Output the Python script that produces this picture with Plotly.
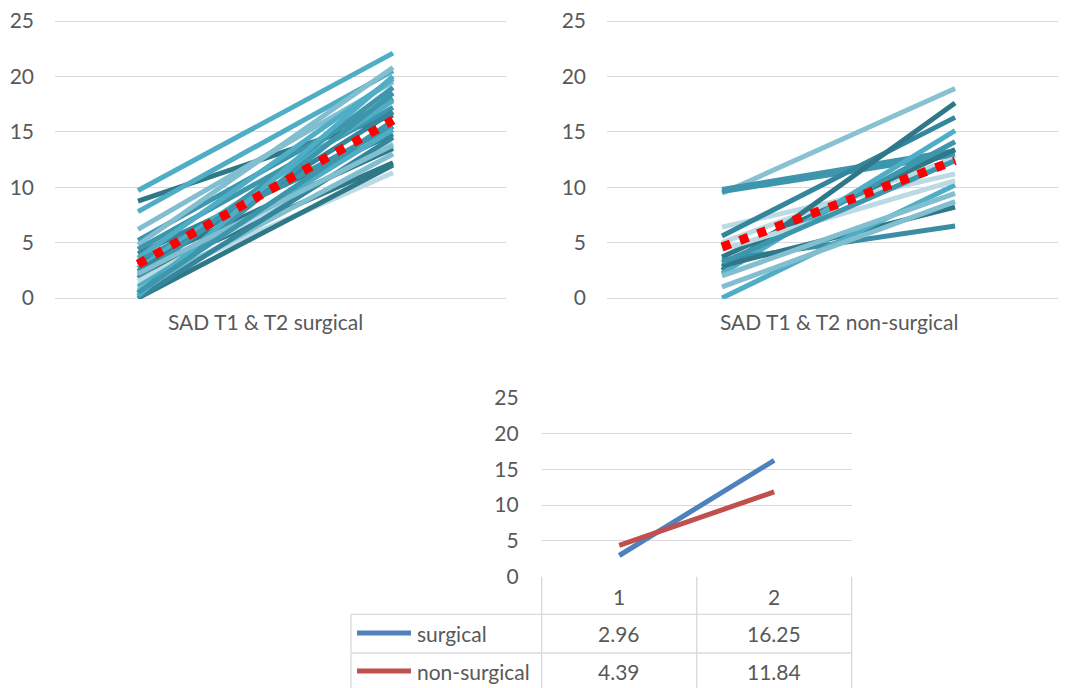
import plotly.graph_objects as go

# ---------------- data ----------------
timepoints = [1, 2]
surg_t1 = [9.7, 8.75, 7.8, 6.2, 5.2, 4.8, 4.4, 4.0, 3.6, 3.3, 3.0, 2.7, 2.4,
           2.1, 1.8, 1.5, 1.2, 1.0, 0.7, 0.4, 0.0, 0.0, 0.2, 2.2, 0.5]
surg_t2 = [22.1, 16.5, 20.5, 19.5, 18.0, 20.8, 17.2, 14.8, 19.8, 15.5, 13.5, 17.8, 16.8,
           12.2, 19.0, 14.0, 11.3, 15.2, 13.0, 18.5, 12.0, 14.5, 20.0, 13.8, 16.0]
nonsurg_t1 = [9.45, 9.8, 9.6, 6.4, 5.6, 5.0, 3.7, 2.5, 2.8, 2.2, 3.4, 2.9, 0.0, 1.0, 2.0, 4.4, 3.2]
nonsurg_t2 = [18.9, 13.3, 12.9, 11.2, 16.3, 12.6, 13.4, 17.6, 14.1, 15.1, 6.5, 8.2, 10.2, 8.7, 9.45, 10.6, 12.4]
surg_trend = [3.05, 16.05]
nonsurg_trend = [4.6, 12.4]
mean_surgical = [2.96, 16.25]
mean_nonsurgical = [4.39, 11.84]
series_names = ["surgical", "non-surgical"]
y_ticks = [0, 5, 10, 15, 20, 25]
panel_titles = ["SAD T1 & T2 surgical", "SAD T1 & T2 non-surgical"]
category_labels = ["1", "2"]

# ---------------- styles ----------------
A, B, C, D, E, F = "#4FAEC5", "#3D96AC", "#33869C", "#2E7888", "#80BED0", "#BBDAE3"
surg_colors = [A, D, A, E, B, E, B, C, A, B, D, A, C, D, B, F, F, A, E, B, D, C, A, E, B]
nonsurg_colors = ["#88C1D1", B, B, F, C, F, D, D, B, A, "#3A8DA2", D, A, E, E, F, B]
series_colors = ["#4F81BD", "#C0504D"]
TXT = "#595959"
GRID = "#D9D9D9"
FONT = "Lato"
FS = 21
LW = 5

W, H = 1066, 688
OFF = 8  # page body margin offset
def px(x):
    return (x - OFF) / W
def py(y):
    return 1 - (y - OFF) / H

fig = go.Figure()

for t1, t2, col in zip(surg_t1, surg_t2, surg_colors):
    fig.add_trace(go.Scatter(x=timepoints, y=[t1, t2], mode="lines",
                             line=dict(color=col, width=LW), xaxis="x", yaxis="y",
                             hoverinfo="skip"))
fig.add_trace(go.Scatter(x=timepoints, y=surg_trend, mode="lines",
                         line=dict(color="#FF0000", width=9, dash="9px,10px"),
                         xaxis="x", yaxis="y"))

for t1, t2, col in zip(nonsurg_t1, nonsurg_t2, nonsurg_colors):
    fig.add_trace(go.Scatter(x=timepoints, y=[t1, t2], mode="lines",
                             line=dict(color=col, width=LW), xaxis="x2", yaxis="y2",
                             hoverinfo="skip"))
fig.add_trace(go.Scatter(x=timepoints, y=nonsurg_trend, mode="lines",
                         line=dict(color="#FF0000", width=9, dash="9px,10px"),
                         xaxis="x2", yaxis="y2"))

for vals, col, name in zip([mean_surgical, mean_nonsurgical], series_colors, series_names):
    fig.add_trace(go.Scatter(x=timepoints, y=vals, mode="lines", name=name,
                             line=dict(color=col, width=LW), xaxis="x3", yaxis="y3"))

xcommon = dict(showticklabels=False, showgrid=False, zeroline=False, showline=False,
               fixedrange=True, automargin=False)
ycommon = dict(range=[-0.1, 25.1], tickvals=y_ticks, showgrid=True, gridcolor=GRID, gridwidth=1.3,
               zeroline=False, showline=False, ticks="", automargin=False,
               ticklabeloverflow="allow",
               tickfont=dict(family=FONT, size=FS, color=TXT))
top_pad = 0.1 * 277 / 25
bot_pad = 0.1 * 179 / 25

fig.update_layout(
    template="none",
    width=W, height=H, margin=dict(l=0, r=0, t=0, b=0),
    paper_bgcolor="white", plot_bgcolor="white", showlegend=False,
    xaxis=dict(domain=[px(55), px(506)], range=[0.6745, 2.443], **xcommon),
    yaxis=dict(domain=[py(298 + top_pad), py(21 - top_pad)], anchor="x", ticklabelstandoff=20, **ycommon),
    xaxis2=dict(domain=[px(607), 1.0], range=[0.5064, 2.476 + 8 / 233], anchor="y2", **xcommon),
    yaxis2=dict(domain=[py(298 + top_pad), py(21 - top_pad)], anchor="x2", ticklabelstandoff=20, **ycommon),
    xaxis3=dict(domain=[px(541.7), px(851.7)], range=[0.5, 2.5], anchor="y3", **xcommon),
    yaxis3=dict(domain=[py(576.7 + bot_pad), py(397.7 - bot_pad)], anchor="x3", ticklabelstandoff=22, **ycommon),
)

annotations = []
for title, xr in zip(panel_titles, ["x", "x2"]):
    annotations.append(dict(text=title, x=1.5, xref=xr, y=py(321), yref="paper",
                            showarrow=False, xanchor="center", yanchor="middle",
                            font=dict(family=FONT, size=FS, color=TXT)))

# data table under bottom chart
shapes = []
L, C1, C2, R = px(351), px(541.7), px(696.7), px(851.7)
T0, T1, T2, T3 = py(576.7), py(614.3), py(653), py(696)
for x in [C1, C2, R]:
    shapes.append(dict(type="line", xref="paper", yref="paper", x0=x, x1=x, y0=T0, y1=T3,
                       line=dict(color=GRID, width=1.3)))
shapes.append(dict(type="line", xref="paper", yref="paper", x0=L, x1=L, y0=T1, y1=T3,
                   line=dict(color=GRID, width=1.3)))
for y in [T1, T2]:
    shapes.append(dict(type="line", xref="paper", yref="paper", x0=L, x1=R, y0=y, y1=y,
                       line=dict(color=GRID, width=1.3)))

for lab, xv in zip(category_labels, timepoints):
    annotations.append(dict(text=lab, x=xv, xref="x3", y=py(596), yref="paper",
                            showarrow=False, xanchor="center", yanchor="middle",
                            font=dict(family=FONT, size=FS, color=TXT)))

row_y = [py(633), py(671)]
for name, vals, col, ry in zip(series_names, [mean_surgical, mean_nonsurgical], series_colors, row_y):
    shapes.append(dict(type="line", xref="paper", yref="paper", x0=px(357), x1=px(411),
                       y0=ry, y1=ry, line=dict(color=col, width=LW)))
    annotations.append(dict(text=name, x=px(415), xref="paper", y=ry, yref="paper",
                            xanchor="left", yanchor="middle", showarrow=False,
                            font=dict(family=FONT, size=FS, color=TXT)))
    for xv, v in zip(timepoints, vals):
        annotations.append(dict(text=f"{v:.2f}", x=xv, xref="x3", y=ry, yref="paper",
                                xanchor="center", yanchor="middle", showarrow=False,
                                font=dict(family=FONT, size=FS, color=TXT)))

fig.update_layout(annotations=annotations, shapes=shapes)
fig.write_html("out.html")
